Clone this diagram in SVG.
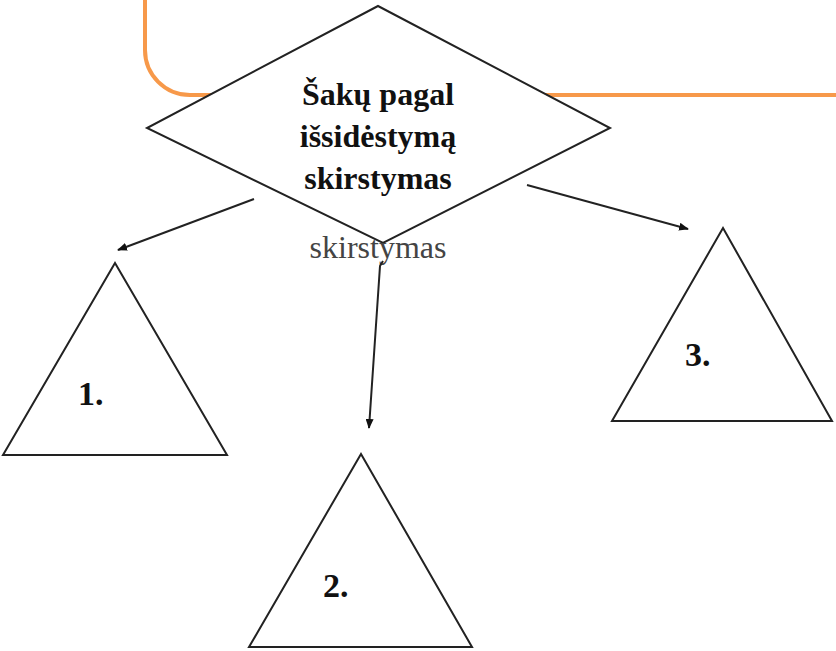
<svg xmlns="http://www.w3.org/2000/svg" width="836" height="651" viewBox="0 0 836 651">
<defs>
<style>
.shape{fill:#fff;stroke:#222;stroke-width:2;stroke-linejoin:miter}
.conn{fill:none;stroke:#222;stroke-width:2}
.bold{font-family:"Liberation Serif",serif;font-weight:bold;font-size:32px;fill:#111;text-anchor:middle}
.num{font-family:"Liberation Serif",serif;font-weight:bold;font-size:34px;fill:#111}
.reg{font-family:"Liberation Serif",serif;font-size:32px;fill:#444;text-anchor:middle}
</style>
<marker id="ah" viewBox="0 0 10 8" refX="9" refY="4" markerWidth="10" markerHeight="8" markerUnits="userSpaceOnUse" orient="auto">
<path d="M0,0 L10,4 L0,8 Z" fill="#111"/>
</marker>
</defs>
<rect width="836" height="651" fill="#fff"/>
<path id="frame" d="M145,0 V50 A45,45 0 0 0 190,95 H836" fill="none" stroke="#F7994A" stroke-width="4"/>
<g id="decision">
<polygon class="shape" points="378,6 610,128 383,243 147,128"/>
<text class="bold" x="378" y="105">Šakų pagal</text>
<text class="bold" x="378" y="147">išsidėstymą</text>
<text class="bold" x="378" y="189">skirstymas</text>
</g>
<text id="label" class="reg" x="378" y="258">skirstymas</text>
<g id="connectors">
<line class="conn" x1="254" y1="199" x2="118" y2="250" marker-end="url(#ah)"/>
<path class="conn" d="M383,261 L380,266 L369,428" marker-end="url(#ah)"/>
<line class="conn" x1="527" y1="185" x2="688" y2="229" marker-end="url(#ah)"/>
</g>
<g id="t1">
<polygon class="shape" points="115,263 227,455 3,455"/>
<text class="num" x="78" y="405">1.</text>
</g>
<g id="t2">
<polygon class="shape" points="361,454 472,647 249,647"/>
<text class="num" x="323" y="597">2.</text>
</g>
<g id="t3">
<polygon class="shape" points="723,228 832,421 612,421"/>
<text class="num" x="685" y="366">3.</text>
</g>
</svg>
